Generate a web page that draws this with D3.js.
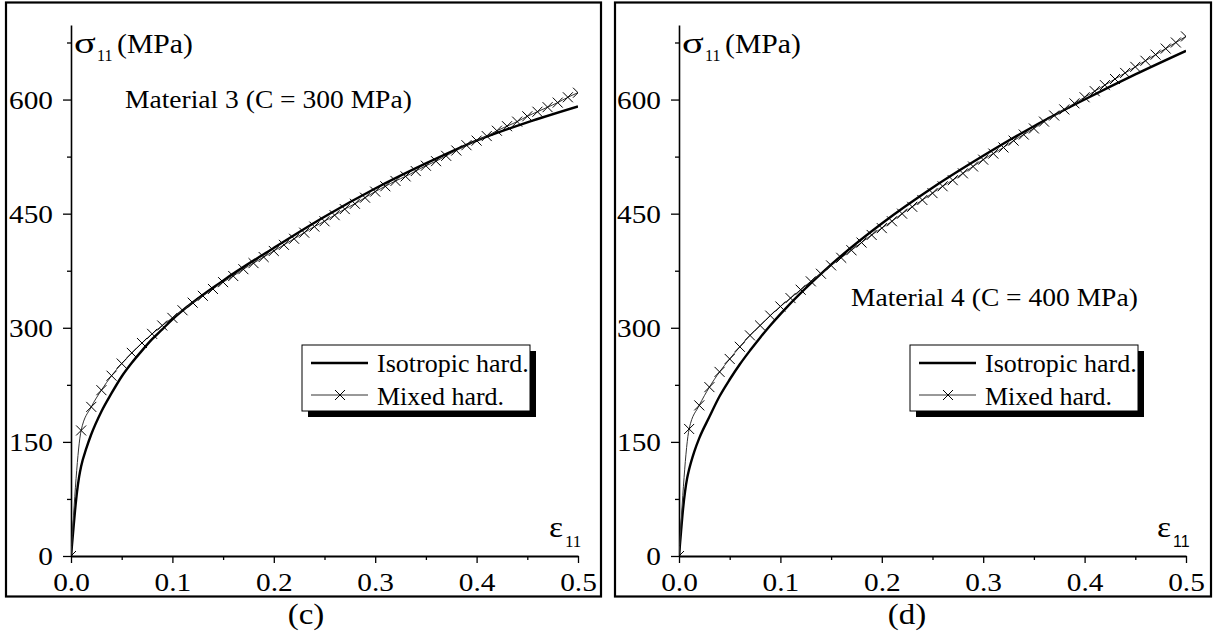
<!DOCTYPE html>
<html>
<head>
<meta charset="utf-8">
<script src="https://cdn.jsdelivr.net/npm/d3@7"></script>
<style>
  html, body { margin: 0; padding: 0; background: #fff; }
  svg { display: block; }
  text { font-family: "Liberation Serif", "Times New Roman", serif; fill: #000; }
</style>
</head>
<body>
<svg id="chart" width="1220" height="641"></svg>
<script>
// ---------------- data ----------------
const xTicks = [0.0, 0.1, 0.2, 0.3, 0.4, 0.5];
const xMinorTicks = [0.05, 0.15, 0.25, 0.35, 0.45];
const yTicks = [0, 150, 300, 450, 600];
const yMinorTicks = [75, 225, 375, 525, 675];

const panelCaptions = ["(c)", "(d)"];
const materialLabels = ["Material 3 (C = 300 MPa)", "Material 4 (C = 400 MPa)"];
const seriesNames = ["Isotropic hard.", "Mixed hard."];

// Isotropic hardening (solid thick curve)
const isoStrainC = [0, 0.002, 0.004, 0.006, 0.008, 0.01, 0.015, 0.02, 0.03, 0.04, 0.05, 0.06, 0.07, 0.08, 0.09, 0.10,
                    0.15, 0.20, 0.25, 0.30, 0.35, 0.40, 0.45, 0.50];
const isoStressC = [0, 30, 60, 85, 104, 118, 141, 160, 190, 214, 236, 254, 270, 285, 298, 311,
                    362, 405, 446, 483, 516, 546, 570, 591];

const isoStrainD = [0, 0.002, 0.004, 0.006, 0.008, 0.01, 0.015, 0.02, 0.03, 0.04, 0.05, 0.06, 0.07, 0.08, 0.09, 0.10,
                    0.15, 0.20, 0.25, 0.30, 0.35, 0.40, 0.45, 0.50];
const isoStressD = [0, 32, 62, 85, 102, 114, 137, 155, 183, 210, 232, 252, 270, 287, 303, 318,
                    383, 437, 484, 526, 565, 600, 633, 664];

// Mixed hardening (thin line with x markers)
const mixedStrain = [0, 0.01, 0.02, 0.03, 0.04, 0.05, 0.06, 0.07, 0.08, 0.09, 0.10,
                     0.11, 0.12, 0.13, 0.14, 0.15, 0.16, 0.17, 0.18, 0.19, 0.20,
                     0.21, 0.22, 0.23, 0.24, 0.25, 0.26, 0.27, 0.28, 0.29, 0.30,
                     0.31, 0.32, 0.33, 0.34, 0.35, 0.36, 0.37, 0.38, 0.39, 0.40,
                     0.41, 0.42, 0.43, 0.44, 0.45, 0.46, 0.47, 0.48, 0.49, 0.50];
const mixedStressC = [0, 165, 196, 218, 237, 253, 267, 280, 292, 303, 313,
                      323, 333, 342, 351, 360, 368, 377, 385, 393, 401,
                      409, 417, 425, 433, 440, 448, 456, 463, 471, 479,
                      486, 493, 499, 506, 513, 519, 526, 533, 540, 546,
                      552, 559, 565, 571, 578, 584, 590, 596, 603, 609];
const mixedStressD = [0, 167, 198, 222, 242, 259, 275, 290, 303, 316, 328,
                      339, 350, 361, 371, 382, 392, 402, 412, 422, 431,
                      440, 450, 459, 468, 477, 486, 494, 503, 512, 521,
                      529, 537, 546, 554, 562, 571, 579, 587, 595, 603,
                      611, 619, 627, 635, 643, 651, 659, 667, 675, 683];

// ---------------- drawing ----------------
const svg = d3.select("#chart");
const SX = 1.15; // horizontal stretch of the reference's typeface

const panels = [
  { id: "c", frame: [6, 2.5, 595, 594], x0: 71, caption: panelCaptions[0], capX: 306, label: materialLabels[0], labX: 125, labY: 108,
    iso: isoStrainC.map((e, i) => ({ e, s: isoStressC[i] })),
    mix: mixedStrain.map((e, i) => ({ e, s: mixedStressC[i] })), epsSans: false },
  { id: "d", frame: [615, 2.5, 596, 594], x0: 679, caption: panelCaptions[1], capX: 907, label: materialLabels[1], labX: 851, labY: 306,
    iso: isoStrainD.map((e, i) => ({ e, s: isoStressD[i] })),
    mix: mixedStrain.map((e, i) => ({ e, s: mixedStressD[i] })), epsSans: true }
];

function sText(g, x, y, str, size, sx, anchor, family) {
  const t = g.append("text")
    .attr("transform", `translate(${x},${y}) scale(${sx},1)`)
    .attr("text-anchor", anchor || "start")
    .style("font-size", size + "px")
    .text(str);
  if (family) t.style("font-family", family);
  return t;
}

const defs = svg.append("defs");

panels.forEach(p => {
  const g = svg.append("g");
  const x = d3.scaleLinear().domain([0, 0.5]).range([p.x0, p.x0 + 507]);
  const y = d3.scaleLinear().domain([0, 698]).range([556, 25]);

  defs.append("clipPath").attr("id", "clip-" + p.id)
    .append("rect").attr("x", x(0)).attr("y", y(698))
    .attr("width", x(0.5) - x(0)).attr("height", y(0) - y(698));

  // frame
  g.append("rect")
    .attr("x", p.frame[0]).attr("y", p.frame[1])
    .attr("width", p.frame[2]).attr("height", p.frame[3])
    .attr("fill", "none").attr("stroke", "#000").attr("stroke-width", 2.2);

  // minor ticks
  g.append("g").attr("transform", "translate(0,556)")
    .call(d3.axisBottom(x).tickValues(xMinorTicks).tickSize(4).tickFormat(""))
    .call(a => a.select(".domain").remove())
    .call(a => a.selectAll("line").attr("stroke-width", 1.3));
  g.append("g").attr("transform", `translate(${p.x0},0)`)
    .call(d3.axisLeft(y).tickValues(yMinorTicks).tickSize(4).tickFormat(""))
    .call(a => a.select(".domain").remove())
    .call(a => a.selectAll("line").attr("stroke-width", 1.3));

  // major axes
  const xa = g.append("g").attr("transform", "translate(0,556)")
    .call(d3.axisBottom(x).tickValues(xTicks).tickSize(7).tickSizeOuter(0).tickFormat(d3.format(".1f")));
  xa.select(".domain").attr("stroke-width", 2);
  xa.selectAll("line").attr("stroke-width", 1.3);
  xa.selectAll("text").style("font-size", "25.5px").attr("y", 0).attr("dy", 0)
    .attr("transform", `translate(0,35) scale(${SX},1)`).style("font-family", "Liberation Serif");

  const ya = g.append("g").attr("transform", `translate(${p.x0},0)`)
    .call(d3.axisLeft(y).tickValues(yTicks).tickSize(8).tickSizeOuter(0));
  ya.select(".domain").attr("stroke-width", 1.6);
  ya.selectAll("line").attr("stroke-width", 1.3);
  ya.selectAll("text").style("font-size", "25.5px").attr("x", 0).attr("dy", "0.34em")
    .attr("transform", `translate(-18,0) scale(${SX},1)`).style("font-family", "Liberation Serif");

  // y title: sigma_11 (MPa)
  sText(g, p.x0 + 3, 53, "σ", 30, 1.35);
  sText(g, p.x0 + 26, 61, "11", 16, 1.0);
  sText(g, p.x0 + 46, 53, "(MPa)", 28, 1.06);

  // x title: epsilon_11
  sText(g, p.x0 + 478, 537, "ε", 29, 1.15);
  sText(g, p.x0 + 494, 547, "11", p.epsSans ? 16 : 17, 1.0, "start", p.epsSans ? "Liberation Sans" : "Liberation Serif");

  // material label
  sText(g, p.labX, p.labY, p.label, 25.5, 1.08);

  // caption
  sText(g, p.capX, 624, p.caption, 30, 1.1, "middle");

  const plot = g.append("g").attr("clip-path", `url(#clip-${p.id})`);

  // isotropic curve
  const lineIso = d3.line().x(d => x(d.e)).y(d => y(d.s)).curve(d3.curveMonotoneX);
  plot.append("path").datum(p.iso).attr("d", lineIso)
    .attr("fill", "none").attr("stroke", "#000").attr("stroke-width", 2.4);

  // mixed curve
  const lineMix = d3.line().x(d => x(d.e)).y(d => y(d.s)).curve(d3.curveMonotoneX);
  plot.append("path").datum(p.mix).attr("d", lineMix)
    .attr("fill", "none").attr("stroke", "#333").attr("stroke-width", 1);
  plot.append("g").selectAll("path.mk").data(p.mix).join("path")
    .attr("class", "mk")
    .attr("d", "M-5,-5L5,5M-5,5L5,-5")
    .attr("transform", d => `translate(${x(d.e)},${y(d.s)})`)
    .attr("stroke", "#000").attr("stroke-width", 1).attr("fill", "none");

  // legend
  const lx = p.x0 + 231, ly = 345, lw = 228, lh = 66;
  g.append("rect").attr("x", lx + 6).attr("y", ly + 6).attr("width", lw).attr("height", lh).attr("fill", "#000");
  g.append("rect").attr("x", lx).attr("y", ly).attr("width", lw).attr("height", lh)
    .attr("fill", "#fff").attr("stroke", "#000").attr("stroke-width", 1);
  g.append("line").attr("x1", lx + 9).attr("x2", lx + 66).attr("y1", ly + 18).attr("y2", ly + 18)
    .attr("stroke", "#000").attr("stroke-width", 2.4);
  g.append("line").attr("x1", lx + 9).attr("x2", lx + 66).attr("y1", ly + 50).attr("y2", ly + 50)
    .attr("stroke", "#333").attr("stroke-width", 1);
  g.append("path").attr("d", "M-5,-5L5,5M-5,5L5,-5")
    .attr("transform", `translate(${lx + 38},${ly + 50})`)
    .attr("stroke", "#000").attr("stroke-width", 1).attr("fill", "none");
  sText(g, lx + 75, ly + 27, seriesNames[0], 25.5, 1.02);
  sText(g, lx + 75, ly + 60, seriesNames[1], 25.5, 1.02);
});
</script>
</body>
</html>
